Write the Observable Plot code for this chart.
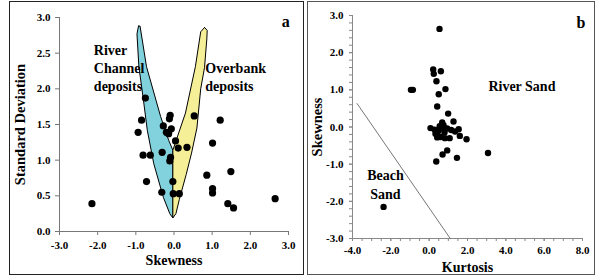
<!DOCTYPE html>
<html>
<head>
<meta charset="utf-8">
<script src="https://cdn.jsdelivr.net/npm/d3@7"></script>
<script src="https://cdn.jsdelivr.net/npm/@observablehq/plot@0.6"></script>
<style>
  html, body { margin: 0; padding: 0; background: #fff; }
  #wrap { position: relative; width: 596px; height: 279px; overflow: hidden; }
  .panel { position: absolute; box-sizing: content-box; }
  #pa { left: 9px; top: 1px; width: 293px; height: 272px; border: 1px solid #222; }
  #pb { left: 307px; top: 1px; width: 286px; height: 272px; border: 1px solid #555; }
  .panel svg { position: absolute; left: 0; top: 0; overflow: visible; }
</style>
</head>
<body>
<div id="wrap">
  <div id="pa" class="panel"></div>
  <div id="pb" class="panel"></div>
</div>
<script>
// ---------- Panel a: Skewness vs Standard Deviation ----------
const skewA = [-2.15, -0.94, -0.85, -0.75, -0.81, -0.62, -0.72, -0.32, -0.31, -0.28, -0.20,
  -0.10, -0.12, -0.14, -0.07, 0.04, 0.11, 0.34, -0.09, -0.11, -0.03, -0.02, 0.14, 0.53,
  1.21, 1.01, 0.86, 1.01, 1.01, 1.41, 1.56, 1.49, 2.65];
const sdA = [0.39, 1.39, 1.56, 1.87, 1.07, 1.07, 0.70, 0.55, 1.11, 1.48, 1.39,
  1.63, 1.58, 1.37, 1.44, 1.27, 1.17, 1.18, 1.04, 0.99, 0.70, 0.53, 0.53, 1.62,
  1.56, 1.24, 0.79, 0.60, 0.54, 0.39, 0.33, 0.84, 0.46];

// River channel deposits field (outline, closed)
const channelX = [-0.93, -0.97, -0.92, -0.80, -0.70, -0.53, -0.28, -0.11, -0.03, -0.03, -0.14, -0.35, -0.72, -0.89, -0.93];
const channelY = [2.88, 2.77, 2.31, 1.84, 1.42, 0.95, 0.48, 0.25, 0.19, 1.14, 1.28, 1.61, 2.31, 2.88, 2.88];
// Overbank deposits field (outline, closed)
const overbankX = [0.80, 0.87, 0.86, 0.80, 0.70, 0.60, 0.46, 0.32, 0.14, 0.05, -0.03, -0.03, 0.30, 0.56, 0.70, 0.80];
const overbankY = [2.86, 2.82, 2.70, 2.30, 2.00, 1.45, 1.10, 0.80, 0.45, 0.25, 0.19, 1.14, 1.66, 2.31, 2.80, 2.86];

const skewTicksA = [-3, -2, -1, 0, 1, 2, 3];
const sdTicksA = [0, 0.5, 1, 1.5, 2, 2.5, 3];

// ---------- Panel b: Kurtosis vs Skewness ----------
const kurtB = [0.54, 0.21, 0.24, 0.61, 0.38, -0.95, -0.85, 0.85, 0.50, 0.42, 0.99, 1.27, 0.68,
  0.07, 0.50, 0.94, 1.54, 0.33, 0.59, 1.07, 1.60, 1.95, 0.94, 0.70, 1.45, 0.37, 3.07, -2.38,
  0.45, 0.55, 0.28, 0.80, 0.65, 0.42, 1.15, 0.82, 1.35, 0.75];
const skewB = [2.64, 1.55, 1.43, 1.50, 1.23, 1.00, 1.00, 1.02, 0.88, 0.55, 0.36, 0.15, 0.12,
  -0.03, -0.09, -0.04, -0.06, -0.18, -0.27, -0.30, -0.24, -0.33, -0.63, -0.74, -0.83, -0.93, -0.70, -2.15,
  -0.12, 0.02, -0.07, -0.15, -0.02, -0.28, -0.08, -0.30, -0.12, 0.05];

// Beach / river sand dividing line
const dividerX = [-3.76, 1.10];
const dividerY = [0.63, -3.00];

const kurtMajor = [-4, -2, 0, 2, 4, 6, 8];
const kurtMinor = d3.range(-4, 8.001, 0.5);
const skewMajorB = [-3, -2, -1, 0, 1, 2, 3];
const skewMinorB = d3.range(-3, 3.001, 0.2).map(v => Math.round(v * 10) / 10);

// ---------- build tables ----------
const ptsA = skewA.map((x, i) => ({x, y: sdA[i]}));
const chanPoly = channelX.map((x, i) => ({x, y: channelY[i]}));
const overPoly = overbankX.map((x, i) => ({x, y: overbankY[i]}));
const ptsB = kurtB.map((x, i) => ({x, y: skewB[i]}));
const divLine = dividerX.map((x, i) => ({x, y: dividerY[i]}));

const fmt = d => (Math.abs(d) < 1e-9 ? 0 : d).toFixed(1);
const FONT = "'Liberation Serif', 'Times New Roman', serif";
const style = {fontFamily: FONT, fontWeight: "bold", fontSize: "11px", color: "#000", background: "transparent", overflow: "visible"};

const plotA = Plot.plot({
  width: 293, height: 272,
  marginLeft: 49, marginRight: 15, marginTop: 15, marginBottom: 43,
  style,
  x: {domain: [-3, 3]},
  y: {domain: [0, 3]},
  marks: [
    Plot.line(chanPoly, {x: "x", y: "y", fill: "#82d2de", stroke: "#000", strokeWidth: 1}),
    Plot.line(overPoly, {x: "x", y: "y", fill: "#f5f097", stroke: "#000", strokeWidth: 1}),
    Plot.ruleY([0], {stroke: "#777", strokeWidth: 1}),
    Plot.ruleX([-3], {stroke: "#777", strokeWidth: 1}),
    Plot.axisX({ticks: skewTicksA, tickSize: 4, tickPadding: 6, tickFormat: fmt, label: null, stroke: "#777", fill: "#000"}),
    Plot.axisY({ticks: sdTicksA, tickSize: 4, tickPadding: 5, tickFormat: fmt, label: null, stroke: "#777", fill: "#000"}),
    Plot.dot(ptsA, {x: "x", y: "y", r: 3.6, fill: "#000", stroke: null}),
    Plot.text(["Skewness"], {frameAnchor: "bottom", dy: 29.5, textAnchor: "middle", lineAnchor: "middle", fontSize: 14, fill: "#000"}),
    Plot.text(["Standard Deviation"], {frameAnchor: "left", dx: -39, rotate: -90, textAnchor: "middle", lineAnchor: "middle", fontSize: 14.5, fill: "#000"}),
    Plot.text([{x: -2.10, y: 2.30, t: "River\nChannel\ndeposits"}], {x: "x", y: "y", text: "t", textAnchor: "start", lineHeight: 1.3, fontSize: 14, fill: "#000"}),
    Plot.text([{x: 0.82, y: 2.28, t: "Overbank"}, {x: 0.82, y: 2.03, t: "deposits"}], {x: "x", y: "y", text: "t", textAnchor: "start", fontSize: 14, fill: "#000"}),
    Plot.text([{x: 3.03, y: 2.94, t: "a"}], {x: "x", y: "y", text: "t", textAnchor: "end", fontSize: 16, fill: "#000"})
  ]
});
document.getElementById("pa").appendChild(plotA);

const plotB = Plot.plot({
  width: 286, height: 272,
  marginLeft: 44, marginRight: 12, marginTop: 13, marginBottom: 36,
  style,
  x: {domain: [-4, 8]},
  y: {domain: [-3, 3]},
  marks: [
    Plot.ruleY([-3], {stroke: "#888", strokeWidth: 1}),
    Plot.ruleX([-4], {stroke: "#888", strokeWidth: 1}),
    Plot.axisX({ticks: kurtMinor, tickSize: 3, tickFormat: () => "", label: null, stroke: "#888"}),
    Plot.axisX({ticks: kurtMajor, tickSize: 3, tickPadding: 5, tickFormat: fmt, label: null, stroke: "#888", fill: "#000"}),
    Plot.axisY({ticks: skewMinorB, tickSize: 3, tickFormat: () => "", label: null, stroke: "#888"}),
    Plot.axisY({ticks: skewMajorB, tickSize: 3, tickPadding: 6, tickFormat: fmt, label: null, stroke: "#888", fill: "#000"}),
    Plot.line(divLine, {x: "x", y: "y", stroke: "#666", strokeWidth: 0.9}),
    Plot.dot(ptsB, {x: "x", y: "y", r: 3.2, fill: "#000", stroke: null}),
    Plot.text(["Kurtosis"], {frameAnchor: "bottom", dy: 29.5, textAnchor: "middle", lineAnchor: "middle", fontSize: 14, fill: "#000"}),
    Plot.text(["Skewness"], {frameAnchor: "left", dx: -35, rotate: -90, textAnchor: "middle", lineAnchor: "middle", fontSize: 14.5, fill: "#000"}),
    Plot.text([{x: 3.09, y: 1.08, t: "River Sand"}], {x: "x", y: "y", text: "t", textAnchor: "start", fontSize: 14, fill: "#000"}),
    Plot.text([{x: -2.28, y: -1.31, t: "Beach"}, {x: -2.28, y: -1.82, t: "Sand"}], {x: "x", y: "y", text: "t", textAnchor: "middle", fontSize: 14, fill: "#000"}),
    Plot.text([{x: 8.15, y: 2.81, t: "b"}], {x: "x", y: "y", text: "t", textAnchor: "end", fontSize: 16, fill: "#000"})
  ]
});
document.getElementById("pb").appendChild(plotB);
</script>
</body>
</html>
